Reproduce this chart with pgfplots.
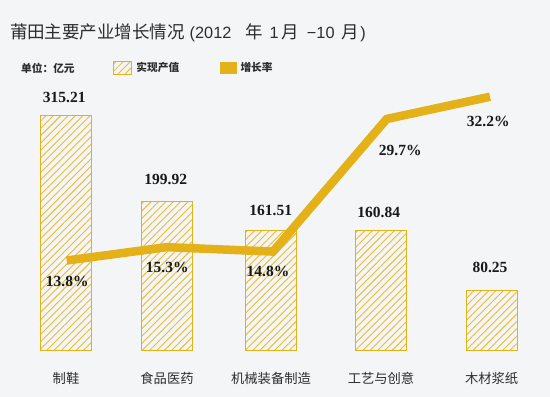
\documentclass[border=0pt]{standalone}
\usepackage{fontspec}
\usepackage{pgfplots}
\pgfplotsset{compat=1.18}
\usetikzlibrary{patterns.meta}
\setmainfont{Liberation Serif}
\newfontfamily\cjk{Noto Sans CJK SC}
\newfontfamily\lsans{Liberation Sans}
\definecolor{bg}{RGB}{244,245,247}
\definecolor{gold}{RGB}{228,177,24}
\definecolor{hatch}{RGB}{233,188,50}
\definecolor{txt}{RGB}{45,45,45}
\definecolor{valtxt}{RGB}{25,25,25}
\begin{document}
\begin{tikzpicture}[x=1pt,y=1pt]
\fill[bg] (0,0) rectangle (550,397);
\useasboundingbox (0,0) rectangle (550,397);
\node[anchor=west, inner sep=0pt, text=txt] at (9.8,364.5) {\cjk\fontsize{17.5}{20}\selectfont 莆田主要产业增长情况\hspace{4.7pt}{\lsans\fontsize{16.3}{19}\selectfont (2012}\hspace{13.7pt}年\hspace{7.1pt}{\lsans\fontsize{16.3}{19}\selectfont 1}\hspace{3.0pt}月\hspace{7.7pt}{\lsans\fontsize{16.3}{19}\selectfont −10}\hspace{7.0pt}月\hspace{1.2pt}{\lsans\fontsize{16.3}{19}\selectfont )}};
\node[anchor=west, inner sep=0pt, font=\cjk\bfseries\fontsize{10.7}{12}\selectfont, text=txt] at (21,328.6) {单位：亿元};
\begin{axis}[
  at={(0pt,47pt)}, anchor=south west, scale only axis,
  width=550pt, height=350pt,
  xmin=0, xmax=550, ymin=0, ymax=471.25, clip=false,
  axis line style={draw=none}, tick style={draw=none}, ytick=\empty,
  xtick={66,167,271,381,491.6},
  xticklabels={制鞋,食品医药,机械装备制造,工艺与创意,木材浆纸},
  xticklabel style={font=\cjk\fontsize{13.3}{15}\selectfont, text=txt, anchor=center, yshift=-28pt},
  legend columns=2,
  legend style={at={(0.2055,0.8057)}, anchor=west, draw=none, fill=none, inner sep=0pt,
    font=\cjk\bfseries\fontsize{10.7}{12}\selectfont, text=txt,
    /tikz/every odd column/.append style={column sep=2.4pt},
    /tikz/every even column/.append style={column sep=38.5pt}},
]
\addplot[ybar, bar width=51pt, bar shift=0pt, draw=gold, line width=1pt,
  pattern={Lines[angle=45,distance=5.2pt,line width=0.9pt]}, pattern color=hatch,
  legend image code/.code={\draw[draw=gold, line width=0.9pt, pattern={Lines[angle=45,distance=5pt,line width=0.8pt]}, pattern color=hatch] (0pt,-6.3pt) rectangle (18pt,6.3pt);}]
  coordinates {(66,315.21) (167,199.92) (271,161.51) (381,160.84) (491.6,80.25)};
\addlegendentry{实现产值}
\addlegendimage{legend image code/.code={\fill[gold] (0pt,-5.4pt) rectangle (16pt,5.4pt);}}
\addlegendentry{增长率}
\end{axis}
\begin{axis}[
  at={(0pt,47pt)}, anchor=south west, scale only axis,
  width=550pt, height=350pt,
  xmin=0, xmax=550, ymin=3.742, ymax=43.07, clip=false, hide axis,
]
\addplot[gold, line width=8.5pt, mark=none] coordinates {(66.7,13.8) (166.7,15.3) (273,14.8) (386.7,29.7) (490,32.2)};
\addplot[draw=none, mark=none, nodes near coords, point meta=explicit symbolic,
  nodes near coords style={anchor=center, inner sep=0pt, font=\bfseries\fontsize{15.5}{18}\selectfont, text=valtxt}]
  coordinates {(64.2,32.13) [315.21] (165.7,22.92) [199.92] (270.7,19.39) [161.51] (378.8,19.17) [160.84] (490,12.99) [80.25]
  (67.3,11.42) [13.8\%] (167.3,12.99) [15.3\%] (268,12.54) [14.8\%] (400.3,26.13) [29.7\%] (488.3,29.39) [32.2\%]};
\end{axis}
\end{tikzpicture}
\end{document}
